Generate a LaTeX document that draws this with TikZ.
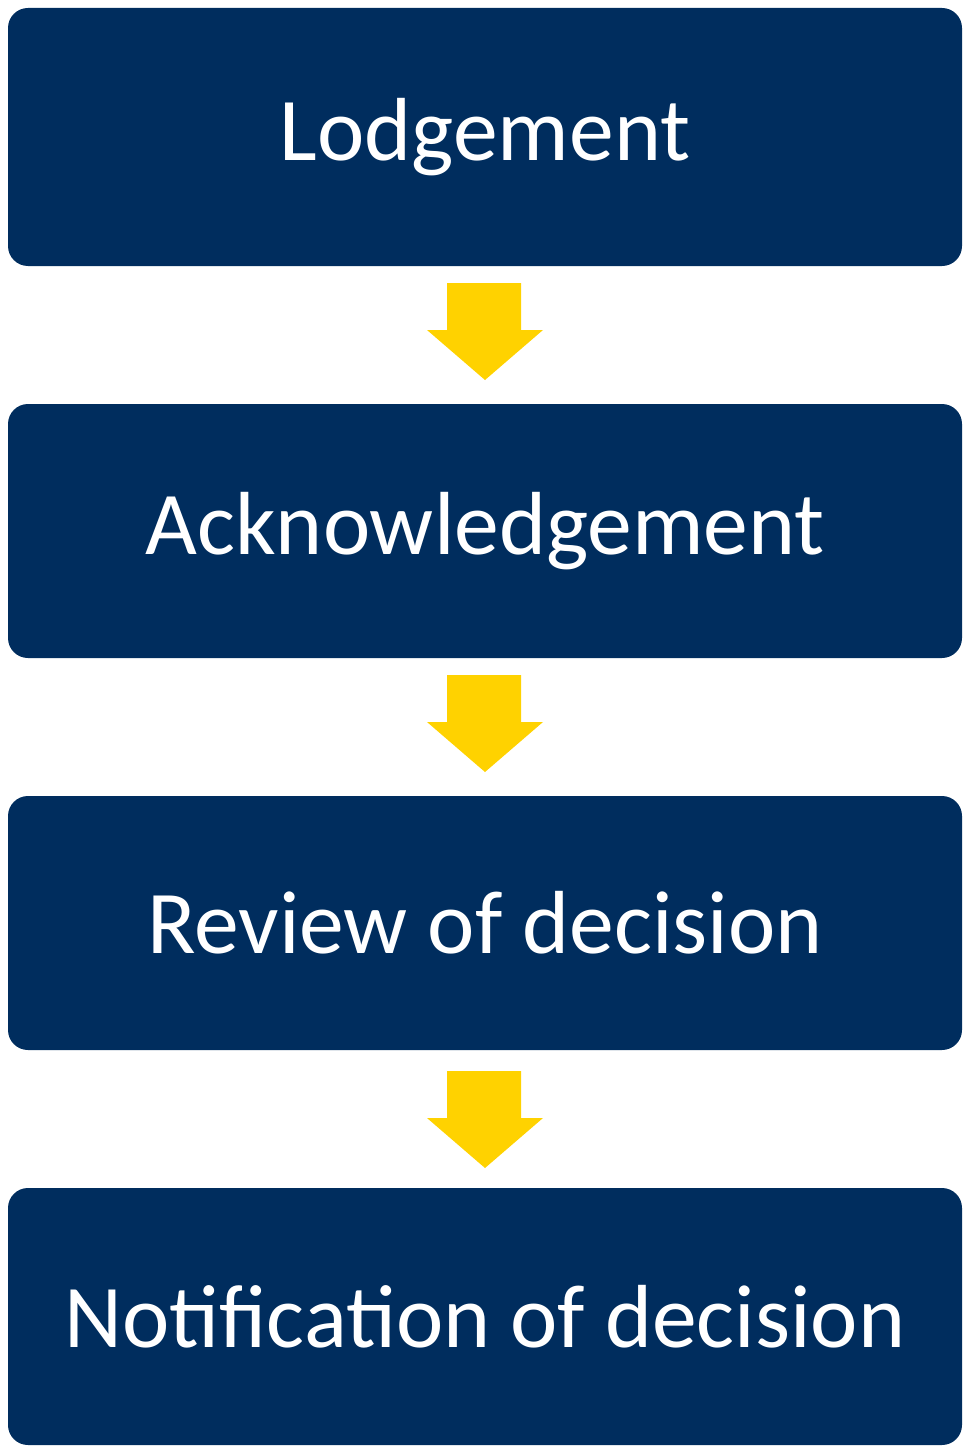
\documentclass[tikz,border=0pt]{standalone}
\usepackage{fontspec}
\setmainfont{Carlito}
\definecolor{navy}{HTML}{002D5E}
\definecolor{gold}{HTML}{FFD200}
\begin{document}
\begin{tikzpicture}[x=0.02cm,y=-0.02cm,
  stepbox/.style={fill=navy,rounded corners=0.4cm,text=white,font=\fontsize{51}{60}\selectfont},
  goldarrow/.style={fill=gold,draw=none}]
\useasboundingbox (0,0) rectangle (970,1453);
\foreach \n/\t/\b/\s in {a/8/266/Lodgement,b/404/658/Acknowledgement,c/796/1050/Review of decision,d/1188/1445/Notification of decision}{
  \fill[stepbox] (8,\t) rectangle (962,\b);
  \node[text=white,font=\fontsize{51}{60}\selectfont] (\n) at (485,{(\t+\b)/2}) {\s};
}
\foreach \t in {283,675,1071}{
  \fill[goldarrow] (447,\t) -- (521,\t) -- (521,\t+47) -- (543,\t+47) -- (485,\t+97) -- (427,\t+47) -- (447,\t+47) -- cycle;
}
\end{tikzpicture}
\end{document}
